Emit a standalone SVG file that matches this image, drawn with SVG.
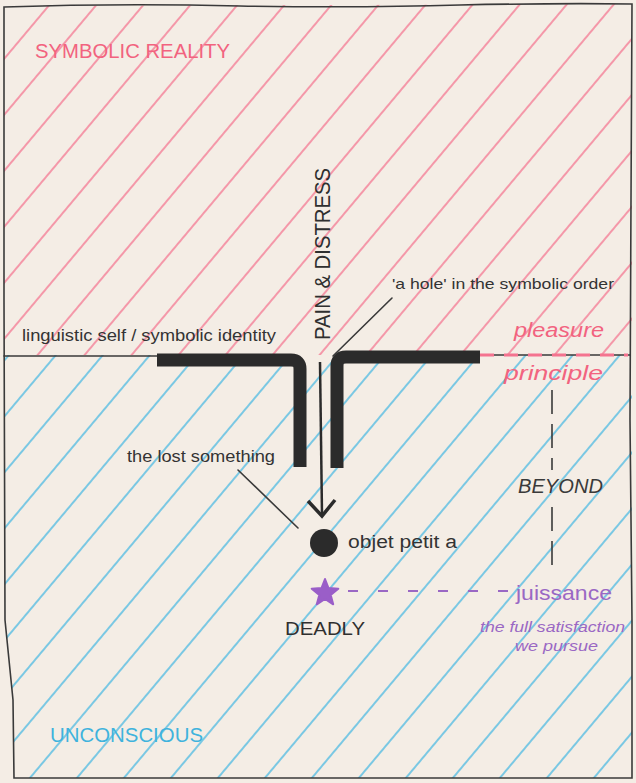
<svg xmlns="http://www.w3.org/2000/svg" width="636" height="783" viewBox="0 0 636 783">
<defs>
<style>
.hand{font-family:"Liberation Sans","DejaVu Sans",sans-serif;fill:#333333;}
.caps{font-family:"Liberation Sans","DejaVu Sans",sans-serif;}
.pink{fill:#f2637f;}
.blue{fill:#3fb3dd;}
.purple{fill:#9a68c4;}
.thin{fill:none;stroke:#3a3a3a;stroke-width:1.6;stroke-linecap:round;}
.thick{fill:none;stroke:#2b2b2b;stroke-width:13;stroke-linecap:butt;stroke-linejoin:round;}
</style>
<pattern id="hatchPink" patternUnits="userSpaceOnUse" width="36" height="20" patternTransform="rotate(40)">
<line x1="5" y1="0" x2="5" y2="20" stroke="#f4738f" stroke-width="1.4"/>
</pattern>
<pattern id="hatchBlue" patternUnits="userSpaceOnUse" width="36" height="20" patternTransform="rotate(40) translate(14 0)">
<line x1="5" y1="0" x2="5" y2="20" stroke="#46b8e2" stroke-width="1.4"/>
</pattern>
</defs>

<rect x="0" y="0" width="636" height="783" fill="#f4ede5"/>

<g id="regions">
<path d="M4,6 L632,4 L632,355 L4,355 Z" fill="url(#hatchPink)"/>
<path d="M4,355 L632,355 L632,778 L14,778 L13,700 L5,620 Z" fill="url(#hatchBlue)"/>
</g>

<g id="frame">
<path d="M4,7 Q120,3 240,6 Q360,8 460,5 Q560,3 632,4 L631,200 L630,420 L632,620 L632,778 L14,778 L13,700 L5,620 L4,300 Z" fill="none" stroke="#3a3a3a" stroke-width="1.6"/>
</g>

<g id="connectors">
<line class="thin" x1="4" y1="356" x2="160" y2="356"/>
<line class="thin" x1="478" y1="355" x2="630" y2="355"/>
<line x1="480" y1="355" x2="628" y2="355" stroke="#f4738f" stroke-width="3" stroke-dasharray="14 10"/>
<path class="thick" d="M157,360 H291 Q300,360 300,369 V467"/>
<path class="thick" d="M480,357 H346 Q337,357 337,366 V468"/>
<line x1="320" y1="362" x2="322" y2="514" stroke="#2b2b2b" stroke-width="2.5"/>
<polyline points="308,501 322,516 335,500" fill="none" stroke="#2b2b2b" stroke-width="3.5" stroke-linejoin="miter"/>
<line class="thin" x1="392" y1="298" x2="333" y2="356"/>
<line class="thin" x1="238" y1="470" x2="298" y2="528"/>
<path d="M552,390 V470 M552,507 V575" fill="none" stroke="#3a3a3a" stroke-width="1.6" stroke-dasharray="24 10"/>
<line x1="348" y1="591" x2="510" y2="591" stroke="#9a68c4" stroke-width="2" stroke-dasharray="10 20"/>
</g>

<g id="symbolic-reality">
<text class="caps pink" x="35" y="58" font-size="20" textLength="195" lengthAdjust="spacingAndGlyphs">SYMBOLIC REALITY</text>
</g>

<g id="pain-distress">
<text class="caps" fill="#2f2f2f" font-size="22" transform="translate(330,340) rotate(-90)" textLength="172" lengthAdjust="spacingAndGlyphs">PAIN &amp; DISTRESS</text>
</g>

<g id="hole-label">
<text class="hand" x="392" y="289" font-size="15" textLength="222" lengthAdjust="spacingAndGlyphs">'a hole' in the symbolic order</text>
</g>

<g id="linguistic-self">
<text class="hand" x="22" y="341" font-size="16" textLength="254" lengthAdjust="spacingAndGlyphs">linguistic self / symbolic identity</text>
</g>

<g id="pleasure-principle">
<text class="hand pink" x="514" y="337" font-size="20" font-style="italic" textLength="90" lengthAdjust="spacingAndGlyphs">pleasure</text>
<text class="hand pink" x="504" y="380" font-size="20" font-style="italic" textLength="99" lengthAdjust="spacingAndGlyphs">principle</text>
</g>

<g id="beyond">
<text class="caps" fill="#3a3a3a" x="518" y="493" font-size="20" font-style="italic" textLength="85" lengthAdjust="spacingAndGlyphs">BEYOND</text>
</g>

<g id="lost-something">
<text class="hand" x="127" y="462" font-size="16" textLength="148" lengthAdjust="spacingAndGlyphs">the lost something</text>
</g>

<g id="objet-petit-a">
<circle cx="324" cy="543" r="14" fill="#2b2b2b"/>
<text class="hand" fill="#2b2b2b" x="348" y="548" font-size="18" textLength="109" lengthAdjust="spacingAndGlyphs">objet petit a</text>
</g>

<g id="deadly">
<path d="M325,579 L328.5,588.1 L338.3,588.7 L330.7,594.9 L333.2,604.3 L325,599 L316.8,604.3 L319.3,594.9 L311.7,588.7 L321.5,588.1 Z" fill="#9a5ec8" stroke="#9a5ec8" stroke-width="2" stroke-linejoin="round"/>
<text class="caps" fill="#2f2f2f" x="285" y="635" font-size="19" textLength="80" lengthAdjust="spacingAndGlyphs">DEADLY</text>
</g>

<g id="juissance">
<text class="hand purple" x="516" y="600" font-size="21" textLength="96" lengthAdjust="spacingAndGlyphs">juissance</text>
<text class="hand purple" x="480" y="632" font-size="15" font-style="italic" textLength="145" lengthAdjust="spacingAndGlyphs">the full satisfaction</text>
<text class="hand purple" x="515" y="651" font-size="15" font-style="italic" textLength="83" lengthAdjust="spacingAndGlyphs">we pursue</text>
</g>

<g id="unconscious">
<text class="caps blue" x="50" y="742" font-size="20" textLength="153" lengthAdjust="spacingAndGlyphs">UNCONSCIOUS</text>
</g>
</svg>
